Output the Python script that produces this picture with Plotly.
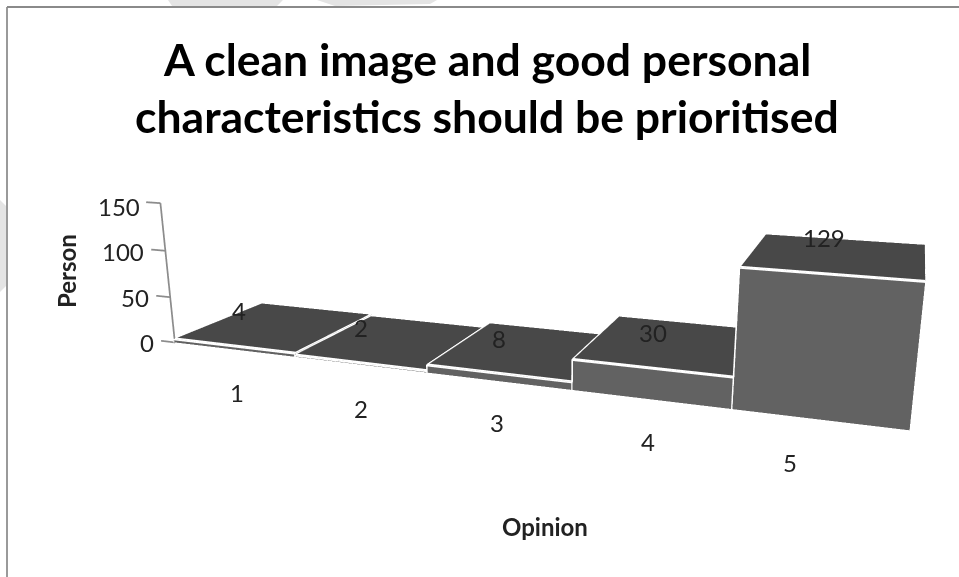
import plotly.graph_objects as go

categories = ["1", "2", "3", "4", "5"]
values = [4, 2, 8, 30, 129]
title_lines = ["A clean image and good personal", "characteristics should be prioritised"]
z_ticks = [0, 50, 100, 150]

W, H, DX, DY = 1126, 840, 0, 99

value_shift_x = [-38, -36, -29, -18, -13]
value_shift_y = [16, 14, 11, 11, 18]
cat_shift_x = [3, 1, -1, -3, -29]
cat_shift_y = [-43, -44, -41, -42, -43]
tick_shift_x = [-19, -19, -19, -18]
tick_shift_y = [0, 0, -1, -3]


def px(x):
    return (x + DX) / W


def py(y):
    return 1 - (y + DY) / H


fig = go.Figure()
front, top = "#626262", "#484848"

for i, v in enumerate(values):
    x0, x1 = i, i + 1
    xs = [x0, x1, x1, x0, x0, x1, x1, x0]
    ys = [0, 0, 1, 1, 0, 0, 1, 1]
    zs = [0, 0, 0, 0, v, v, v, v]
    faces = [((0, 1, 5), front), ((0, 5, 4), front),
             ((4, 5, 6), top), ((4, 6, 7), top),
             ((0, 3, 7), front), ((0, 7, 4), front),
             ((1, 2, 6), front), ((1, 6, 5), front)]
    fig.add_trace(go.Mesh3d(
        x=xs, y=ys, z=zs,
        i=[f[0][0] for f in faces], j=[f[0][1] for f in faces], k=[f[0][2] for f in faces],
        facecolor=[f[1] for f in faces], flatshading=True,
        lighting=dict(ambient=1, diffuse=0, specular=0, fresnel=0),
        hoverinfo="skip", showscale=False))
    fig.add_trace(go.Scatter3d(
        x=[x0, x0, x1], y=[0, 0, 0], z=[0, v, v], mode="lines",
        line=dict(color="white", width=6), hoverinfo="skip", showlegend=False))
    if 0 < i < 4:
        edge = max(v, values[i - 1])
        fig.add_trace(go.Scatter3d(
            x=[x0, x0], y=[0, 1], z=[edge, edge], mode="lines",
            line=dict(color="white", width=5), hoverinfo="skip", showlegend=False))

fig.add_trace(go.Scatter3d(
    x=[0, 0], y=[0, 0], z=[0, 150], mode="lines",
    line=dict(color="#8c8c8c", width=3.5), hoverinfo="skip", showlegend=False))
for t in z_ticks:
    fig.add_trace(go.Scatter3d(
        x=[-0.12, 0], y=[0, 0], z=[t, t], mode="lines",
        line=dict(color="#8c8c8c", width=3.5), hoverinfo="skip", showlegend=False))

label_font = dict(family="Lato", size=24, color="#222222")
scene_annotations = []
for i, v in enumerate(values):
    scene_annotations.append(dict(x=i + 0.5, y=0.5, z=v, text=str(v), showarrow=False, font=label_font,
                                  xshift=value_shift_x[i], yshift=value_shift_y[i]))
for i, c in enumerate(categories):
    scene_annotations.append(dict(x=i + 0.5, y=0, z=0, text=c, showarrow=False, font=label_font,
                                  xshift=cat_shift_x[i], yshift=cat_shift_y[i]))
for i, t in enumerate(z_ticks):
    scene_annotations.append(dict(x=0, y=0, z=t, text=str(t), showarrow=False, font=label_font,
                                  xanchor="right", xshift=tick_shift_x[i], yshift=tick_shift_y[i]))


def paper_text(text, x, y, size, color="#222222", angle=0):
    return dict(text=text, x=px(x), y=py(y), xref="paper", yref="paper", showarrow=False,
                xanchor="center", yanchor="middle", textangle=angle,
                font=dict(family="Lato", size=size, color=color))


def blob(points):
    path = "M " + " L ".join("%.4f %.4f" % (px(a), py(b)) for a, b in points) + " Z"
    return dict(type="path", xref="paper", yref="paper", path=path,
                fillcolor="#e4e4e4", line=dict(width=0), layer="below")


hidden = dict(visible=False)
fig.update_layout(
    width=W, height=H, showlegend=False, paper_bgcolor="white",
    margin=dict(l=0, r=0, t=0, b=0),
    scene=dict(
        domain=dict(x=[0, 1], y=[0, 1]),
        xaxis=dict(hidden, range=[-0.2, 5]),
        yaxis=dict(hidden, range=[0, 1]),
        zaxis=dict(hidden, range=[0, 150]),
        aspectmode="manual",
        aspectratio=dict(x=2.288, y=0.4636, z=0.4416),
        camera=dict(eye=dict(x=1.0824, y=-2.7307, z=0.7214),
                    center=dict(x=0.1554, y=0.0023, z=-0.0964),
                    up=dict(x=-0.0926, y=0.2566, z=0.9613),
                    projection=dict(type="perspective")),
        annotations=scene_annotations,
    ),
    annotations=[
        paper_text("<b>%s</b>" % title_lines[0], 487, 58, 44.5, "black"),
        paper_text("<b>%s</b>" % title_lines[1], 487, 115, 44.5, "black"),
        paper_text("<b>Person</b>", 66, 271, 24, angle=-90),
        paper_text("<b>Opinion</b>", 545, 526, 24),
    ],
    shapes=[
        blob([(168, 0), (283, 0), (277, 6), (172, 6)]),
        blob([(317, 0), (437, 0), (430, 4), (335, 6)]),
        blob([(0, 200), (7, 207), (7, 285), (0, 292)]),
        dict(type="line", xref="paper", yref="paper", x0=px(7), x1=px(7), y0=py(7), y1=py(577),
             line=dict(color="#9a9a9a", width=2)),
        dict(type="line", xref="paper", yref="paper", x0=px(7), x1=px(959), y0=py(7), y1=py(7),
             line=dict(color="#8a8a8a", width=2)),
    ],
)
fig.write_html("out.html", post_script=(
    "document.body.style.margin='-%dpx 0 0 -%dpx';"
    "document.body.style.overflow='hidden';"
    "document.documentElement.style.overflow='hidden';" % (DY, DX)))
